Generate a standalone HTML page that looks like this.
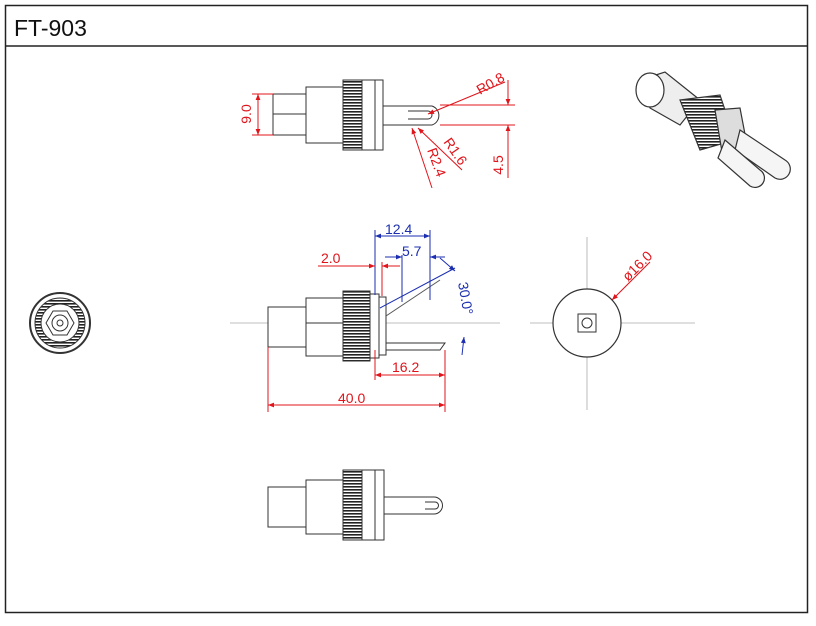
<!DOCTYPE html>
<html><head><meta charset="utf-8"><style>
html,body{margin:0;padding:0;background:#fff;}
svg{display:block;font-family:"Liberation Sans",sans-serif;}
</style></head><body>
<svg width="816" height="626" viewBox="0 0 816 626" xmlns="http://www.w3.org/2000/svg">
<defs>
<pattern id="knurl" width="3" height="3" patternUnits="userSpaceOnUse"><rect width="3" height="3" fill="#fff"/><rect width="3" height="1.6" fill="#222"/></pattern>
<marker id="ar" viewBox="0 0 10 10" refX="10" refY="5" markerWidth="8" markerHeight="6" orient="auto-start-reverse"><path d="M0,1 L10,5 L0,9z" fill="#e0141b"/></marker>
<marker id="ab" viewBox="0 0 10 10" refX="10" refY="5" markerWidth="8" markerHeight="6" orient="auto-start-reverse"><path d="M0,1 L10,5 L0,9z" fill="#1b2fb0"/></marker>
</defs>
<rect x="5.5" y="5.5" width="802" height="607" fill="none" stroke="#222" stroke-width="1.5"/>
<line x1="5" y1="46" x2="808" y2="46" stroke="#222" stroke-width="1.5"/>
<text x="14" y="36" font-size="23" fill="#111">FT-903</text>

<!-- center lines -->
<g stroke="#aaa" stroke-width="0.8">
<line x1="230" y1="323" x2="500" y2="323"/>
<line x1="530" y1="323" x2="695" y2="323"/>
<line x1="587" y1="237" x2="587" y2="410"/>
</g>

<!-- top view -->
<g stroke="#333" stroke-width="1" fill="#fff">
<rect x="273" y="94" width="33" height="41"/>
<line x1="273" y1="114" x2="306" y2="114"/>
<rect x="306" y="87" width="37" height="56"/>
<rect x="343" y="80" width="19" height="70" fill="url(#knurl)"/>
<rect x="362" y="80" width="13" height="70"/>
<rect x="375" y="80" width="8" height="70"/>
<path d="M383,106 H432 A10,10 0 0 1 432,125 H383z"/>
<path d="M408,111 H428 A4,4 0 0 1 428,119 H408"/>
</g>
<g stroke="#e0141b" stroke-width="1" fill="none">
<line x1="252" y1="94" x2="273" y2="94"/><line x1="252" y1="135" x2="273" y2="135"/>
<line x1="258" y1="94" x2="258" y2="135" marker-start="url(#ar)" marker-end="url(#ar)"/>
<line x1="440" y1="105" x2="515" y2="105"/><line x1="440" y1="125" x2="515" y2="125"/>
<line x1="508" y1="80" x2="508" y2="105" marker-end="url(#ar)"/>
<line x1="508" y1="178" x2="508" y2="125" marker-end="url(#ar)"/>
<line x1="505" y1="82" x2="428" y2="114" marker-end="url(#ar)"/>
<line x1="462" y1="170" x2="418" y2="128" marker-end="url(#ar)"/>
<line x1="432" y1="188" x2="412" y2="128" marker-end="url(#ar)"/>
</g>
<g fill="#e0141b" font-size="14">
<text transform="translate(251,114) rotate(-90)" text-anchor="middle">9.0</text>
<text transform="translate(480,95) rotate(-30)">R0.8</text>
<text transform="translate(443,142) rotate(55)">R1.6</text>
<text transform="translate(427,150) rotate(70)">R2.4</text>
<text transform="translate(503,165) rotate(-90)" text-anchor="middle">4.5</text>
</g>

<!-- 3D image -->
<g stroke="#333" stroke-width="1.2">
<path d="M640,80 L665,72 L700,100 L680,125 L650,108z" fill="#eee"/>
<ellipse cx="650" cy="90" rx="14" ry="17" fill="#fff"/>
<path d="M680,100 L720,95 L735,140 L700,150z" fill="url(#knurl)"/>
<path d="M715,110 L740,108 L748,150 L722,152z" fill="#ddd"/>
<path d="M740,130 L785,160 A8,8 0 0 1 775,178 L735,150z" fill="#f5f5f5"/>
<path d="M725,140 L760,170 A8,8 0 0 1 750,186 L718,158z" fill="#f5f5f5"/>
</g>

<!-- left front view -->
<g stroke="#333" fill="#fff">
<circle cx="60" cy="323" r="30" stroke-width="2"/>
<circle cx="60" cy="323" r="25" fill="url(#knurl)" stroke-width="1"/>
<circle cx="60" cy="323" r="19" stroke-width="1"/>
<polygon points="74,323 67,335 53,335 46,323 53,311 67,311" stroke-width="1"/>
<circle cx="60" cy="323" r="8" stroke-width="1"/>
<circle cx="60" cy="323" r="3" stroke-width="1"/>
</g>

<!-- middle side view -->
<g stroke="#333" stroke-width="1" fill="#fff">
<rect x="268" y="307" width="38" height="40"/>
<rect x="306" y="298" width="37" height="58"/>
<line x1="306" y1="323" x2="343" y2="323"/>
<rect x="343" y="291" width="27" height="70" fill="url(#knurl)"/>
<rect x="370" y="294" width="9" height="64"/>
<rect x="379" y="297" width="7" height="58"/>
<path d="M386,343 H445 L440,350 H386z"/>
<line x1="386" y1="316" x2="440" y2="280" stroke="#555"/>
</g>
<g stroke="#1b2fb0" stroke-width="1" fill="none">
<line x1="375" y1="230" x2="375" y2="295"/>
<line x1="430" y1="230" x2="430" y2="300"/>
<line x1="375" y1="236" x2="430" y2="236" marker-start="url(#ab)" marker-end="url(#ab)"/>
<line x1="402" y1="255" x2="402" y2="302"/>
<line x1="385" y1="257" x2="402" y2="257" marker-end="url(#ab)"/>
<line x1="445" y1="257" x2="430" y2="257" marker-end="url(#ab)"/>
<line x1="380" y1="308" x2="455" y2="268"/>
<line x1="440" y1="258" x2="455" y2="271" marker-end="url(#ab)"/>
<line x1="462" y1="355" x2="464" y2="337" marker-end="url(#ab)"/>
</g>
<g fill="#1b2fb0" font-size="14">
<text x="385" y="234">12.4</text>
<text x="402" y="256">5.7</text>
<text transform="translate(458,283) rotate(80)">30.0°</text>
</g>
<g stroke="#e0141b" stroke-width="1" fill="none">
<line x1="318" y1="266" x2="375" y2="266" marker-end="url(#ar)"/>
<line x1="400" y1="266" x2="382" y2="266" marker-end="url(#ar)"/>
<line x1="382" y1="262" x2="382" y2="296"/>
<line x1="375" y1="350" x2="375" y2="380"/>
<line x1="445" y1="350" x2="445" y2="412"/>
<line x1="268" y1="347" x2="268" y2="412"/>
<line x1="375" y1="375" x2="445" y2="375" marker-start="url(#ar)" marker-end="url(#ar)"/>
<line x1="268" y1="405" x2="445" y2="405" marker-start="url(#ar)" marker-end="url(#ar)"/>
<line x1="650" y1="262" x2="612" y2="300" marker-end="url(#ar)"/>
</g>
<g fill="#e0141b" font-size="14">
<text x="321" y="263">2.0</text>
<text x="392" y="372">16.2</text>
<text x="338" y="403">40.0</text>
<text transform="translate(628,282) rotate(-45)">ø16.0</text>
</g>

<!-- right front view -->
<g stroke="#333" fill="#fff">
<circle cx="587" cy="323" r="34" stroke-width="1.2"/>
<rect x="578" y="314" width="18" height="18" stroke-width="1"/>
<circle cx="587" cy="323" r="5" stroke-width="1"/>
</g>

<!-- bottom view -->
<g stroke="#333" stroke-width="1" fill="#fff">
<rect x="268" y="487" width="38" height="40"/>
<rect x="306" y="480" width="37" height="54"/>
<rect x="343" y="470" width="19" height="70" fill="url(#knurl)"/>
<rect x="362" y="470" width="13" height="70"/>
<rect x="375" y="470" width="9" height="70"/>
<path d="M384,497 H434 A8.5,8.5 0 0 1 434,514 H384z"/>
<path d="M425,502 H435 A3.5,3.5 0 0 1 435,509 H425"/>
</g>
</svg>
</body></html>
